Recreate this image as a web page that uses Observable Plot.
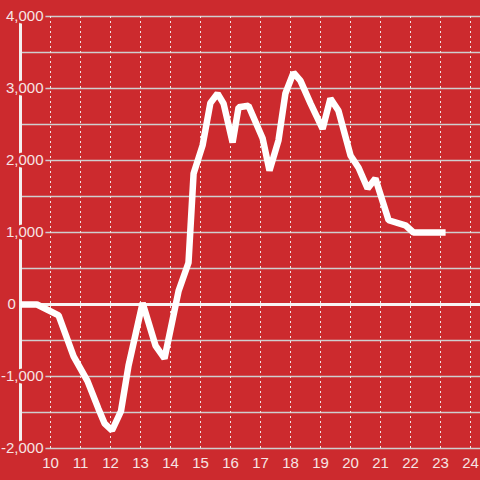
<!DOCTYPE html>
<html>
<head>
<meta charset="utf-8">
<script src="https://cdn.jsdelivr.net/npm/d3@7"></script>
<script src="https://cdn.jsdelivr.net/npm/@observablehq/plot@0.6"></script>
<style>
  html, body { margin: 0; padding: 0; background: #cc2a2e; }
  #chart svg { display: block; }
</style>
</head>
<body>
<div id="chart"></div>
<script>
// Series: hour of day vs value
const hours = [9, 9.55, 10.27, 10.77, 11.23, 11.6, 11.8, 12.05, 12.35, 12.6, 13.07, 13.5, 13.8, 14.27, 14.6, 14.77, 15.07, 15.33, 15.57, 15.77, 16.07, 16.27, 16.6, 17.07, 17.3, 17.6, 17.83, 18.1, 18.33, 18.67, 19.07, 19.33, 19.6, 20.0, 20.27, 20.57, 20.83, 21.27, 21.83, 22.1, 23.17];
const values = [0, 0, -150, -720, -1060, -1450, -1650, -1750, -1480, -850, 20, -570, -750, 190, 580, 1820, 2210, 2800, 2930, 2790, 2250, 2740, 2760, 2310, 1860, 2280, 2930, 3220, 3110, 2790, 2440, 2860, 2690, 2070, 1900, 1610, 1750, 1170, 1100, 1000, 1000];

const xTicks = [10, 11, 12, 13, 14, 15, 16, 17, 18, 19, 20, 21, 22, 23, 24];
const yGrid = [-2000, -1500, -1000, -500, 0, 500, 1000, 1500, 2000, 2500, 3000, 3500, 4000];
const yTicks = [-2000, -1000, 0, 1000, 2000, 3000, 4000];

const data = hours.map((h, i) => ({h, v: values[i]}));
const bg = "#cc2a2e";
const labelColor = "#f6e4e4";
const fmt = v => (v < 0 ? "-" : "") + d3.format(",")(Math.abs(v));

const chart = Plot.plot({
  width: 480,
  height: 480,
  marginLeft: 20,
  marginRight: 0,
  marginTop: 16,
  marginBottom: 32,
  style: {background: bg, fontFamily: "'Liberation Sans', Arial, sans-serif"},
  x: {domain: [9, 24.3333], axis: null},
  y: {domain: [-2000, 4000], axis: null},
  marks: [
    Plot.ruleY(yGrid, {stroke: "#cfcfcf", strokeWidth: 1.5}),
    Plot.ruleX(xTicks, {y1: -2000, y2: 4000, stroke: "#f0e4e4", strokeWidth: 1, strokeDasharray: "2,3"}),
    Plot.ruleX([9], {y1: -2000, y2: 4000, stroke: "#f4f0f0", strokeWidth: 3}),
    Plot.ruleY([0], {stroke: "#f8f4f4", strokeWidth: 3}),
    Plot.line(data, {x: "h", y: "v", stroke: "white", strokeWidth: 6.5, strokeLinejoin: "miter", strokeLinecap: "butt"}),
    Plot.text(yTicks.filter(d => d !== 0), {x: 9, y: d => d, text: fmt, dx: 23, textAnchor: "end", fill: labelColor, stroke: bg, strokeWidth: 5, fontSize: 15}),
    Plot.text([0], {x: 9, y: d => d, text: fmt, dx: -13, textAnchor: "start", fill: labelColor, fontSize: 15}),
    Plot.text(xTicks, {x: d => d, y: -2000, text: d => String(d), dy: 15, fill: labelColor, fontSize: 15})
  ]
});
document.getElementById("chart").append(chart);
</script>
</body>
</html>
